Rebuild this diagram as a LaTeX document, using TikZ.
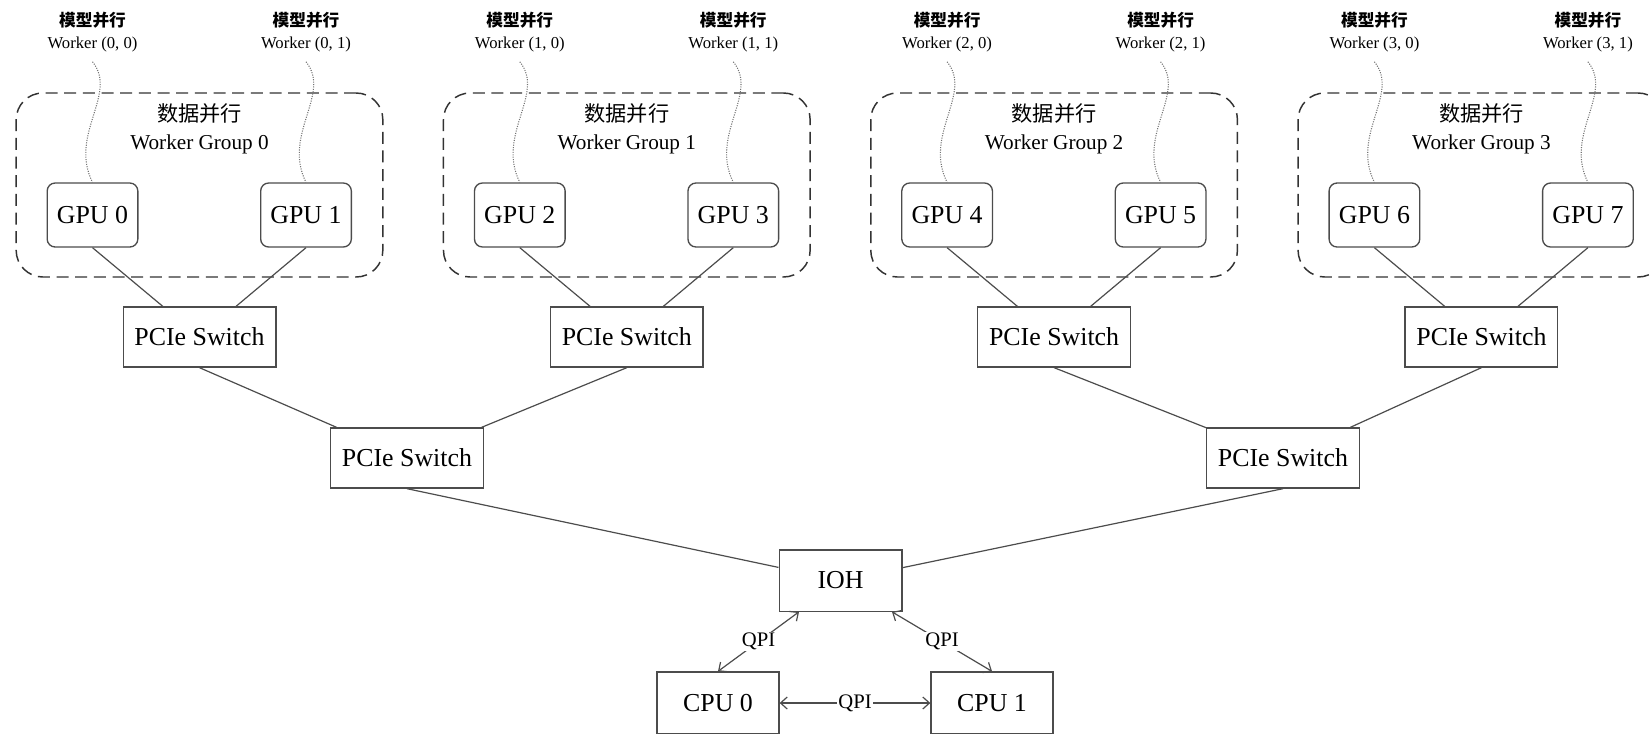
\documentclass[tikz,border=0pt]{standalone}
\usepackage{fontspec}
\setmainfont{Liberation Serif}
\newfontfamily\cjk{Noto Sans CJK SC}
\usetikzlibrary{arrows.meta,calc}

\tikzset{every picture/.style={line width=0.75pt}}
\tikzset{
  gpubox/.style={draw=black!70, line width=1pt, rounded corners=6pt, minimum width=68pt, minimum height=48pt, inner sep=0pt, font=\fontsize{19.4}{23}\selectfont},
  switchbox/.style={draw=black!70, line width=1pt, minimum width=114.5pt, minimum height=45pt, inner sep=0pt, font=\fontsize{19.4}{23}\selectfont},
  groupbox/.style={draw=black!80, line width=1.1pt, dash pattern=on 9pt off 5pt, rounded corners=20pt, minimum width=275pt, minimum height=138pt, inner sep=0pt},
  grouplabel/.style={align=center, font=\fontsize{15.9}{21}\selectfont},
  workerlabel/.style={align=center, inner ysep=7pt, font=\fontsize{12.5}{16.5}\selectfont},
  link/.style={draw=black!70, line width=0.9pt},
  wavy/.style={draw=black!55, line width=0.8pt, densely dotted},
  qpi/.style={draw=black!70, line width=0.9pt, {Straight Barb[length=5pt,width=9pt]}-{Straight Barb[length=5pt,width=9pt]}},
  qpilabel/.style={fill=white, inner sep=1pt, font=\fontsize{15.5}{18}\selectfont}
}

\begin{document}
\begin{tikzpicture}[x=0.75pt,y=0.75pt,yscale=-1,xscale=1]
		\useasboundingbox (0,0) rectangle (1652,733);
		
		%Worker groups (dashed)
		\node[groupbox] (grp0) at (199.5,185) {};
		\node[groupbox] (grp1) at (626.8,185) {};
		\node[groupbox] (grp2) at (1054.1,185) {};
		\node[groupbox] (grp3) at (1481.4,185) {};
		% Text Node
		\node[grouplabel] (gl0) at (199.5,129) {{\cjk 数据并行}\\Worker Group 0};
		\node[grouplabel] (gl1) at (626.8,129) {{\cjk 数据并行}\\Worker Group 1};
		\node[grouplabel] (gl2) at (1054.1,129) {{\cjk 数据并行}\\Worker Group 2};
		\node[grouplabel] (gl3) at (1481.4,129) {{\cjk 数据并行}\\Worker Group 3};
		
		%GPUs
		\node[gpubox] (gpu0) at (92.5,215) {GPU 0};
		\node[gpubox] (gpu1) at (306,215) {GPU 1};
		\node[gpubox] (gpu2) at (519.8,215) {GPU 2};
		\node[gpubox] (gpu3) at (733.3,215) {GPU 3};
		\node[gpubox] (gpu4) at (947.1,215) {GPU 4};
		\node[gpubox] (gpu5) at (1160.6,215) {GPU 5};
		\node[gpubox] (gpu6) at (1374.4,215) {GPU 6};
		\node[gpubox] (gpu7) at (1587.9,215) {GPU 7};
		
		% Text Node
		\node[workerlabel] (wk00) at (92.5,32) {{\cjk\bfseries 模型并行}\\Worker (0, 0)};
		\node[workerlabel] (wk01) at (306,32) {{\cjk\bfseries 模型并行}\\Worker (0, 1)};
		\node[workerlabel] (wk10) at (519.8,32) {{\cjk\bfseries 模型并行}\\Worker (1, 0)};
		\node[workerlabel] (wk11) at (733.3,32) {{\cjk\bfseries 模型并行}\\Worker (1, 1)};
		\node[workerlabel] (wk20) at (947.1,32) {{\cjk\bfseries 模型并行}\\Worker (2, 0)};
		\node[workerlabel] (wk21) at (1160.6,32) {{\cjk\bfseries 模型并行}\\Worker (2, 1)};
		\node[workerlabel] (wk30) at (1374.4,32) {{\cjk\bfseries 模型并行}\\Worker (3, 0)};
		\node[workerlabel] (wk31) at (1587.9,32) {{\cjk\bfseries 模型并行}\\Worker (3, 1)};
		
		%Dotted wavy lines
		\draw[wavy] (wk00.south) .. controls +(26,32) and +(-24,-48) .. (gpu0.north);
		\draw[wavy] (wk01.south) .. controls +(26,32) and +(-24,-48) .. (gpu1.north);
		\draw[wavy] (wk10.south) .. controls +(26,32) and +(-24,-48) .. (gpu2.north);
		\draw[wavy] (wk11.south) .. controls +(26,32) and +(-24,-48) .. (gpu3.north);
		\draw[wavy] (wk20.south) .. controls +(26,32) and +(-24,-48) .. (gpu4.north);
		\draw[wavy] (wk21.south) .. controls +(26,32) and +(-24,-48) .. (gpu5.north);
		\draw[wavy] (wk30.south) .. controls +(26,32) and +(-24,-48) .. (gpu6.north);
		\draw[wavy] (wk31.south) .. controls +(26,32) and +(-24,-48) .. (gpu7.north);
		
		%PCIe switches
		\node[switchbox] (sw0) at (199.5,337) {PCIe Switch};
		\node[switchbox] (sw1) at (626.8,337) {PCIe Switch};
		\node[switchbox] (sw2) at (1054.1,337) {PCIe Switch};
		\node[switchbox] (sw3) at (1481.4,337) {PCIe Switch};
		\node[switchbox] (sw01) at (407,458) {PCIe Switch};
		\node[switchbox] (sw23) at (1283,458) {PCIe Switch};
		
		%IOH and CPUs
		\node[switchbox, minimum width=92pt, minimum height=46pt] (ioh) at (840.5,580.5) {IOH};
		\node[switchbox, minimum width=91.5pt, minimum height=46.5pt] (cpu0) at (718,703) {CPU 0};
		\node[switchbox, minimum width=91.5pt, minimum height=46.5pt] (cpu1) at (992,703) {CPU 1};
		
		%Straight Lines
		\draw[link] (gpu0.south) -- (sw0);
		\draw[link] (gpu1.south) -- (sw0);
		\draw[link] (gpu2.south) -- (sw1);
		\draw[link] (gpu3.south) -- (sw1);
		\draw[link] (gpu4.south) -- (sw2);
		\draw[link] (gpu5.south) -- (sw2);
		\draw[link] (gpu6.south) -- (sw3);
		\draw[link] (gpu7.south) -- (sw3);
		
		\draw[link] (sw0.south) -- (sw01);
		\draw[link] (sw1.south) -- (sw01);
		\draw[link] (sw2.south) -- (sw23);
		\draw[link] (sw3.south) -- (sw23);
		
		\draw[link] (sw01.south) -- (ioh);
		\draw[link] (sw23.south) -- (ioh);
		
		%QPI links
		\coordinate (qpil) at ($(ioh.south)+(-41.5,0)$);
		\coordinate (qpir) at ($(ioh.south)+(51.5,0)$);
		\draw[qpi] (qpil) -- node[qpilabel] {QPI} (cpu0.north);
		\draw[qpi] (qpir) -- node[qpilabel] {QPI} (cpu1.north);
		\draw[qpi] (cpu0) -- node[qpilabel] {QPI} (cpu1);
		
\end{tikzpicture}
\end{document}
